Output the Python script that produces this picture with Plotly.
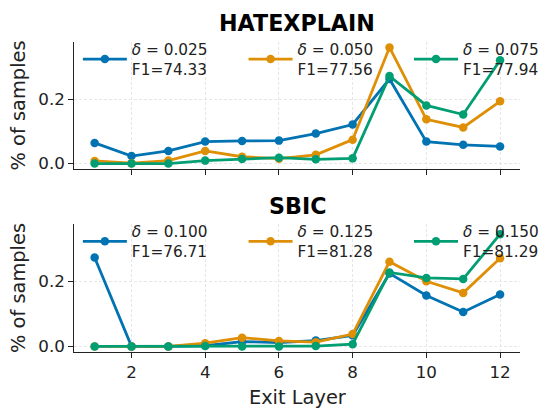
import plotly.graph_objects as go
from plotly.subplots import make_subplots

layers = list(range(1, 13))

hx_labels = ["<i>δ</i> = 0.025<br>F1=74.33", "<i>δ</i> = 0.050<br>F1=77.56", "<i>δ</i> = 0.075<br>F1=77.94"]
hx_d025 = [0.064, 0.023, 0.039, 0.068, 0.070, 0.071, 0.093, 0.121, 0.262, 0.068, 0.058, 0.053]
hx_d050 = [0.008, 0.001, 0.009, 0.039, 0.021, 0.015, 0.027, 0.074, 0.360, 0.137, 0.112, 0.193]
hx_d075 = [0.000, 0.000, 0.000, 0.009, 0.014, 0.018, 0.013, 0.016, 0.271, 0.180, 0.152, 0.320]

sb_labels = ["<i>δ</i> = 0.100<br>F1=76.71", "<i>δ</i> = 0.125<br>F1=81.28", "<i>δ</i> = 0.150<br>F1=81.29"]
sb_d100 = [0.274, 0.000, 0.000, 0.002, 0.015, 0.012, 0.018, 0.034, 0.225, 0.157, 0.106, 0.160]
sb_d125 = [0.000, 0.000, 0.000, 0.010, 0.027, 0.017, 0.013, 0.038, 0.261, 0.201, 0.165, 0.272]
sb_d150 = [0.000, 0.000, 0.000, 0.001, 0.000, 0.000, 0.001, 0.007, 0.228, 0.211, 0.208, 0.346]

colors = ["#0173b2", "#de8f05", "#029e73"]
FONT = "DejaVu Sans"
W, H = 544, 411

fig = make_subplots(rows=2, cols=1)

legend_names_top = ["legend", "legend2", "legend3"]
legend_names_bot = ["legend4", "legend5", "legend6"]

for i, (lab, ys) in enumerate(zip(hx_labels, [hx_d025, hx_d050, hx_d075])):
    fig.add_trace(go.Scatter(x=layers, y=ys, mode="lines+markers", name=lab,
                             line=dict(color=colors[i], width=2.8),
                             marker=dict(color=colors[i], size=8.5),
                             legend=legend_names_top[i]), row=1, col=1)
for i, (lab, ys) in enumerate(zip(sb_labels, [sb_d100, sb_d125, sb_d150])):
    fig.add_trace(go.Scatter(x=layers, y=ys, mode="lines+markers", name=lab,
                             line=dict(color=colors[i], width=2.8),
                             marker=dict(color=colors[i], size=8.5),
                             legend=legend_names_bot[i]), row=2, col=1)

xd = [74.5 / W, 521.3 / W]
top_dom = [1 - 171 / H, 1 - 42 / H]
bot_dom = [1 - 355.7 / H, 1 - 226 / H]

axis_common = dict(showline=True, linecolor="#222", linewidth=1.3, ticks="outside",
                   ticklen=5, tickwidth=1.3, tickcolor="#222",
                   showgrid=True, gridcolor="#e6e6e6", griddash="3px,2px", gridwidth=0.8,
                   zeroline=False, tickfont=dict(family=FONT, size=16.7, color="#222"))

fig.update_xaxes(**axis_common, range=[0.45, 12.55], tickvals=[2, 4, 6, 8, 10, 12], domain=xd)
fig.update_xaxes(showticklabels=False, row=1, col=1)
fig.update_xaxes(title=dict(text="Exit Layer", font=dict(family=FONT, size=19.4, color="#222"), standoff=8), row=2, col=1)
fig.update_yaxes(**axis_common, range=[-0.018, 0.378], tickvals=[0.0, 0.2], tickformat=".1f",
                 title=dict(text="% of samples", font=dict(family=FONT, size=19.4, color="#222"), standoff=7))
fig.update_yaxes(domain=top_dom, row=1, col=1)
fig.update_yaxes(domain=bot_dom, row=2, col=1)

leg_common = dict(orientation="v", bgcolor="rgba(0,0,0,0)", xanchor="left", yanchor="top",
                  itemwidth=44, font=dict(family=FONT, size=15.3, color="#222"), itemclick=False)
legends = {}
for i in range(3):
    xpos = (78 + 166 * i) / W
    legends[legend_names_top[i]] = dict(**leg_common, x=xpos, y=1 - 33 / H)
    legends[legend_names_bot[i]] = dict(**leg_common, x=xpos, y=1 - 217 / H)

fig.update_layout(
    width=W, height=H, margin=dict(l=0, r=0, t=0, b=0),
    paper_bgcolor="white", plot_bgcolor="white",
    showlegend=True,
    **legends,
    annotations=[
        dict(text="<b>HATEXPLAIN</b>", x=0.5 * (xd[0] + xd[1]), y=1 - 23 / H, xref="paper", yref="paper",
             showarrow=False, font=dict(family=FONT, size=22.2, color="black"), xanchor="center", yanchor="middle"),
        dict(text="<b>SBIC</b>", x=0.5 * (xd[0] + xd[1]), y=1 - 208 / H, xref="paper", yref="paper",
             showarrow=False, font=dict(family=FONT, size=22.2, color="black"), xanchor="center", yanchor="middle"),
    ],
)

fig.write_html("out.html")
